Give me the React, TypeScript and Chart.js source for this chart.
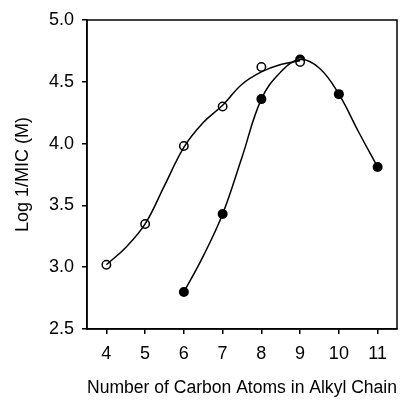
import React, { useEffect, useRef } from "react";
import { Chart, registerables } from "chart.js";

Chart.register(...registerables);

// Measured data points
const OPEN_CARBONS = [4, 5, 6, 7, 8, 9];
const OPEN_VALUES = [3.02, 3.35, 3.98, 4.3, 4.62, 4.66];
const FILLED_CARBONS = [6, 7, 8, 9, 10, 11];
const FILLED_VALUES = [2.8, 3.43, 4.36, 4.68, 4.4, 3.81];

// Fitted curves
const OPEN_CURVE_X = [4, 4.5, 5, 5.5, 6, 6.5, 7, 7.5, 8, 8.5, 9];
const OPEN_CURVE_Y = [3.02, 3.16, 3.35, 3.66, 3.97, 4.17, 4.31, 4.48, 4.58, 4.64, 4.67];
const FILLED_CURVE_X = [6, 6.5, 7, 7.5, 8, 8.5, 9, 9.5, 10, 10.5, 11];
const FILLED_CURVE_Y = [2.8, 3.09, 3.43, 3.89, 4.36, 4.58, 4.68, 4.61, 4.4, 4.1, 3.81];

const X_TICKS = [4, 5, 6, 7, 8, 9, 10, 11];
const Y_TICKS = [2.5, 3.0, 3.5, 4.0, 4.5, 5.0];

const X_TITLE = "Number of Carbon Atoms in Alkyl Chain";
const Y_TITLE = "Log 1/MIC (M)";

const zip = (xs: number[], ys: number[]) => xs.map((x, i) => ({ x, y: ys[i] }));

const FONT = "'Liberation Sans', Arial, sans-serif";

const framePlugin = {
  id: "frame",
  afterDraw(chart: any) {
    const { ctx, chartArea } = chart;
    ctx.save();
    ctx.strokeStyle = "#000";
    ctx.lineWidth = 1.5;
    ctx.strokeRect(chartArea.left, chartArea.top, chartArea.right - chartArea.left, chartArea.bottom - chartArea.top);
    ctx.restore();
  },
};

export default function App() {
  const ref = useRef<HTMLCanvasElement | null>(null);
  useEffect(() => {
    document.body.style.margin = "0";
    const canvas = ref.current!;
    const chart = new Chart(canvas, {
      type: "scatter",
      data: {
        datasets: [
          {
            data: zip(OPEN_CURVE_X, OPEN_CURVE_Y),
            showLine: true,
            borderColor: "#000",
            borderWidth: 1.5,
            pointRadius: 0,
            tension: 0.4,
          },
          {
            data: zip(FILLED_CURVE_X, FILLED_CURVE_Y),
            showLine: true,
            borderColor: "#000",
            borderWidth: 1.5,
            pointRadius: 0,
            tension: 0.4,
          },
          {
            data: zip(OPEN_CARBONS, OPEN_VALUES),
            showLine: false,
            pointRadius: 4.2,
            pointBackgroundColor: "#fff",
            pointBorderColor: "#000",
            pointBorderWidth: 1.5,
          },
          {
            data: zip(FILLED_CARBONS, FILLED_VALUES),
            showLine: false,
            pointRadius: 5,
            pointBackgroundColor: "#000",
            pointBorderColor: "#000",
            pointBorderWidth: 0,
          },
        ],
      },
      options: {
        animation: false,
        responsive: false,
        layout: { padding: { left: 0, right: 9, top: 20, bottom: 0 } },
        plugins: { legend: { display: false }, tooltip: { enabled: false } },
        scales: {
          x: {
            type: "linear",
            min: 3.5,
            max: 11.5,
            afterBuildTicks: (s: any) => {
              s.ticks = X_TICKS.map((v) => ({ value: v }));
            },
            afterFit: (s: any) => {
              s.height = 71;
            },
            grid: { display: true, drawOnChartArea: false, drawTicks: true, tickLength: 5, color: "#000", lineWidth: 1.5 },
            border: { display: true, color: "#000", width: 1.5 },
            ticks: { color: "#000", font: { family: FONT, size: 18 }, padding: 9, maxRotation: 0, autoSkip: false },
            title: { display: true, text: X_TITLE, color: "#000", font: { family: FONT, size: 18 }, padding: { top: 0, bottom: 1 } },
          },
          y: {
            type: "linear",
            min: 2.5,
            max: 5.0,
            afterBuildTicks: (s: any) => {
              s.ticks = Y_TICKS.map((v) => ({ value: v }));
            },
            afterFit: (s: any) => {
              s.width = 87;
            },
            grid: { display: true, drawOnChartArea: false, drawTicks: true, tickLength: 5, color: "#000", lineWidth: 1.5 },
            border: { display: true, color: "#000", width: 1.5 },
            ticks: {
              color: "#000",
              font: { family: FONT, size: 18 },
              padding: 8,
              callback: (v: any) => Number(v).toFixed(1),
            },
            title: { display: true, text: Y_TITLE, color: "#000", font: { family: FONT, size: 18 }, padding: { top: 12, bottom: 0 } },
          },
        },
      },
      plugins: [framePlugin],
    });
    return () => chart.destroy();
  }, []);
  return (
    <div style={{ width: 406, height: 400, position: "relative" }}>
      <canvas ref={ref} width={406} height={400} style={{ width: 406, height: 400, display: "block" }} />
    </div>
  );
}
